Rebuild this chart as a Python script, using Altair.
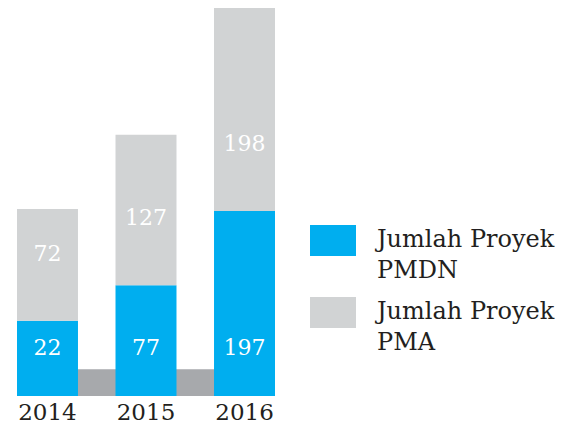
import altair as alt
import pandas as pd

# ---- data ----
years = ["2014", "2015", "2016"]
series = ["PMDN", "PMA"]
pmdn_values = [22, 77, 197]          # printed numbers (blue segments)
pma_values = [72, 127, 198]          # printed numbers (grey segments)
# drawn segment lengths of the infographic (not proportional to printed values)
pmdn_length = [76, 112, 187]
pma_length = [113, 152, 205]
base_length = [27]
colors = ["#00aeef", "#d1d3d4"]
base_color = "#a7a9ac"
text_color = "#231f20"
FONT = "DejaVu Serif"

rows = []
for i, yr in enumerate(years):
    rows.append(dict(year=yr, series="PMDN", start=0, end=pmdn_length[i], value=pmdn_values[i]))
    rows.append(dict(year=yr, series="PMA", start=pmdn_length[i],
                     end=pmdn_length[i] + pma_length[i], value=pma_values[i]))
df = pd.DataFrame(rows)
base_df = pd.DataFrame({"lo": [0], "hi": base_length})

W, H = 258, 388
yscale = alt.Scale(domain=[0, 392], nice=False, zero=True)
xenc = alt.X("year:N", sort=years,
             scale=alt.Scale(paddingInner=0.381, paddingOuter=0),
             axis=alt.Axis(title=None, domain=False, ticks=False, tickSize=0, labelAngle=0,
                           labelFont=FONT, labelFontSize=23, labelColor=text_color,
                           labelBaseline="alphabetic", labelPadding=23, labelAlign="center"))

base = alt.Chart(base_df).mark_rect(color=base_color).encode(
    x=alt.value(0), x2=alt.value(W),
    y=alt.Y("lo:Q", scale=yscale, axis=None), y2="hi:Q")

bars = alt.Chart(df).mark_bar(opacity=1).encode(
    x=xenc,
    y=alt.Y("start:Q", scale=yscale, axis=None), y2="end:Q",
    color=alt.Color("series:N",
                    scale=alt.Scale(domain=series, range=colors),
                    legend=alt.Legend(
                        title=None, orient="none", legendX=293, legendY=216,
                        symbolType="M-1,-0.957L1,-0.957L1,0.391L-1,0.391Z",
                        symbolSize=2116, symbolStrokeWidth=0, symbolOpacity=1,
                        labelFont=FONT, labelFontSize=24, labelColor=text_color,
                        labelBaseline="alphabetic", labelOffset=21, labelLimit=0,
                        rowPadding=13, padding=0,
                        labelExpr="datum.label == 'PMDN' ? ['Jumlah Proyek', 'PMDN'] : ['Jumlah Proyek', 'PMA']")))

lab_pmdn = alt.Chart(df).transform_filter(alt.datum.series == "PMDN").mark_text(
    font=FONT, fontSize=22, color="#ffffff", baseline="alphabetic", dy=-41).encode(
    x=alt.X("year:N", sort=years), y=alt.Y("start:Q", scale=yscale), text="value:Q")

lab_pma = alt.Chart(df).transform_filter(alt.datum.series == "PMA").mark_text(
    font=FONT, fontSize=22, color="#ffffff", baseline="alphabetic", dy=-60).encode(
    x=alt.X("year:N", sort=years), y=alt.Y("start:Q", scale=yscale), text="value:Q")

chart = alt.layer(base, bars, lab_pmdn, lab_pma).properties(
    width=W, height=H,
    padding={"left": 9, "top": 0, "right": 281, "bottom": 29},
    autosize=alt.AutoSizeParams(type="none"),
).configure(style={"guide-label": {"lineHeight": 31}}, view=alt.ViewConfig(stroke=None))

chart.save("out.html", embed_options={"renderer": "svg", "actions": False})
